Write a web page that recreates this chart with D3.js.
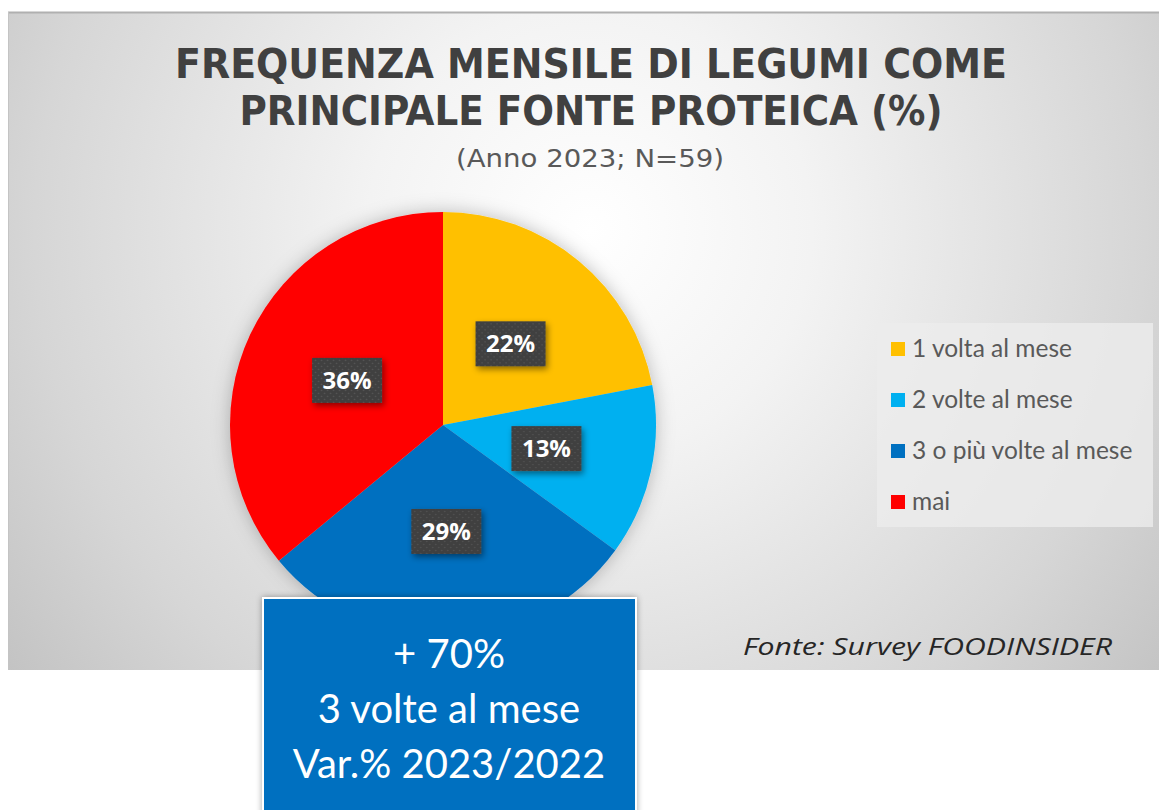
<!DOCTYPE html>
<meta charset="utf-8">
<title>Frequenza mensile di legumi</title>
<style>
  body { margin: 0; background: #ffffff; }
  svg { display: block; }
</style>
<body>
<div id="chart"></div>
<script src="https://cdn.jsdelivr.net/npm/d3@7"></script>
<script>
  // data
  const categories = ["1 volta al mese", "2 volte al mese", "3 o più volte al mese", "mai"];
  const values = [22, 13, 29, 36];
  const sliceColors = ["#FFC000", "#00B0F0", "#0070C0", "#FF0000"];
  const titleLines = ["FREQUENZA MENSILE DI LEGUMI COME", "PRINCIPALE FONTE PROTEICA (%)"];
  const subtitle = "(Anno 2023; N=59)";
  const source = "Fonte: Survey FOODINSIDER";
  const calloutLines = ["+ 70%", "3 volte al mese", "Var.% 2023/2022"];

  const W = 1159, H = 810;
  const svg = d3.select("#chart").append("svg")
      .attr("width", W)
      .attr("height", H);

  const defs = svg.append("defs");

  // panel background: light centre, grey edges
  const bg = defs.append("radialGradient")
      .attr("id", "bg")
      .attr("gradientUnits", "userSpaceOnUse")
      .attr("cx", 590).attr("cy", 230).attr("r", 740);
  bg.append("stop").attr("offset", "0").attr("stop-color", "#ffffff");
  bg.append("stop").attr("offset", "0.3").attr("stop-color", "#f3f3f3");
  bg.append("stop").attr("offset", "0.75").attr("stop-color", "#d6d6d6");
  bg.append("stop").attr("offset", "1").attr("stop-color", "#c2c2c2");

  // dotted texture for the label boxes
  const pat = defs.append("pattern")
      .attr("id", "dots")
      .attr("patternUnits", "userSpaceOnUse")
      .attr("width", 6).attr("height", 6);
  pat.append("rect").attr("width", 6).attr("height", 6).attr("fill", "#3f3f3f");
  pat.append("circle").attr("cx", 1.5).attr("cy", 1.5).attr("r", 0.8).attr("fill", "#575757");
  pat.append("circle").attr("cx", 4.5).attr("cy", 4.5).attr("r", 0.8).attr("fill", "#575757");

  const shadow = defs.append("filter").attr("id", "shadow")
      .attr("x", "-30%").attr("y", "-30%").attr("width", "160%").attr("height", "160%");
  shadow.append("feDropShadow")
      .attr("dx", 2).attr("dy", 3).attr("stdDeviation", 3)
      .attr("flood-color", "#000").attr("flood-opacity", 0.45);

  const pieShadow = defs.append("filter").attr("id", "pieShadow")
      .attr("x", "-20%").attr("y", "-20%").attr("width", "140%").attr("height", "140%");
  pieShadow.append("feDropShadow")
      .attr("dx", 0).attr("dy", 0).attr("stdDeviation", 9)
      .attr("flood-color", "#000").attr("flood-opacity", 0.25);

  const boxShadow = defs.append("filter").attr("id", "boxShadow")
      .attr("x", "-10%").attr("y", "-10%").attr("width", "120%").attr("height", "120%");
  boxShadow.append("feDropShadow")
      .attr("dx", 0).attr("dy", 0).attr("stdDeviation", 3)
      .attr("flood-color", "#000").attr("flood-opacity", 0.35);

  // chart panel
  const panel = {x: 8, y: 12, w: 1151, h: 658};
  svg.append("rect")
      .attr("x", panel.x).attr("y", panel.y)
      .attr("width", panel.w).attr("height", panel.h)
      .attr("fill", "url(#bg)");
  svg.append("line")
      .attr("x1", panel.x).attr("x2", panel.x + panel.w)
      .attr("y1", panel.y + 0.5).attr("y2", panel.y + 0.5)
      .attr("stroke", "#b0b0b0").attr("stroke-width", 2);
  svg.append("line")
      .attr("x1", panel.x + 0.5).attr("x2", panel.x + 0.5)
      .attr("y1", panel.y).attr("y2", panel.y + panel.h)
      .attr("stroke", "#c4c4c4").attr("stroke-width", 1);

  // title
  const titleWidths = [832, 703];
  svg.selectAll("text.title")
    .data(titleLines)
    .join("text")
      .attr("class", "title")
      .attr("x", 591)
      .attr("y", (d, i) => 78 + i * 47)
      .attr("text-anchor", "middle")
      .attr("font-family", "'DejaVu Sans Condensed', 'DejaVu Sans', sans-serif")
      .attr("font-weight", "bold")
      .attr("font-size", 40)
      .attr("fill", "#404040")
      .attr("textLength", (d, i) => titleWidths[i])
      .attr("lengthAdjust", "spacingAndGlyphs")
      .text(d => d);

  svg.append("text")
      .attr("x", 590)
      .attr("y", 167)
      .attr("text-anchor", "middle")
      .attr("font-family", "'DejaVu Sans Condensed', sans-serif")
      .attr("font-size", 25)
      .attr("fill", "#595959")
      .attr("textLength", 268)
      .attr("lengthAdjust", "spacingAndGlyphs")
      .text(subtitle);

  // pie
  const cx = 443, cy = 425, radius = 213;
  const pie = d3.pie().sort(null).value(d => d.value);
  const arcs = pie(categories.map((c, i) => ({cat: c, value: values[i], color: sliceColors[i]})));
  const arc = d3.arc().innerRadius(0).outerRadius(radius);
  const labelArc = d3.arc().innerRadius(106).outerRadius(106);

  const g = svg.append("g").attr("transform", `translate(${cx},${cy})`);
  g.append("g")
      .attr("filter", "url(#pieShadow)")
    .selectAll("path")
    .data(arcs)
    .join("path")
      .attr("d", arc)
      .attr("fill", d => d.data.color);

  const lab = g.selectAll("g.lab")
    .data(arcs)
    .join("g")
      .attr("class", "lab")
      .attr("transform", d => `translate(${labelArc.centroid(d)})`);
  lab.append("rect")
      .attr("x", -35).attr("y", -22)
      .attr("width", 70).attr("height", 45)
      .attr("fill", "url(#dots)")
      .attr("filter", "url(#shadow)");
  lab.append("text")
      .attr("text-anchor", "middle")
      .attr("dy", "0.36em")
      .attr("font-family", "'Open Sans', sans-serif")
      .attr("font-weight", "bold")
      .attr("font-size", 24)
      .attr("fill", "#ffffff")
      .text(d => d.data.value + "%");

  // legend
  const legend = svg.append("g").attr("transform", "translate(877,323)");
  legend.append("rect")
      .attr("width", 276).attr("height", 204)
      .attr("fill", "#ececec").attr("opacity", 0.8);
  const item = legend.selectAll("g.item")
    .data(categories)
    .join("g")
      .attr("class", "item")
      .attr("transform", (d, i) => `translate(14,${33 + i * 51})`);
  item.append("rect")
      .attr("x", 0).attr("y", -14)
      .attr("width", 14).attr("height", 14)
      .attr("fill", (d, i) => sliceColors[i]);
  item.append("text")
      .attr("x", 21)
      .attr("y", 1)
      .attr("font-family", "Lato, 'Open Sans', sans-serif")
      .attr("font-size", 24.5)
      .attr("fill", "#595959")
      .text(d => d);

  // source
  svg.append("text")
      .attr("x", 1112)
      .attr("y", 655)
      .attr("text-anchor", "end")
      .attr("font-family", "'Open Sans', sans-serif")
      .attr("font-style", "italic")
      .attr("font-size", 23)
      .attr("fill", "#262626")
      .attr("textLength", 369)
      .attr("lengthAdjust", "spacingAndGlyphs")
      .text(source);

  // callout box
  const box = svg.append("g");
  box.append("rect")
      .attr("x", 263).attr("y", 598)
      .attr("width", 373).attr("height", 230)
      .attr("fill", "#0070C0")
      .attr("stroke", "#ffffff").attr("stroke-width", 2)
      .attr("filter", "url(#boxShadow)");
  box.selectAll("text")
    .data(calloutLines)
    .join("text")
      .attr("x", 449)
      .attr("y", (d, i) => 668 + i * 55)
      .attr("text-anchor", "middle")
      .attr("font-family", "Lato, 'Open Sans', sans-serif")
      .attr("font-size", 40)
      .attr("fill", "#ffffff")
      .text(d => d);
</script>
</body>
